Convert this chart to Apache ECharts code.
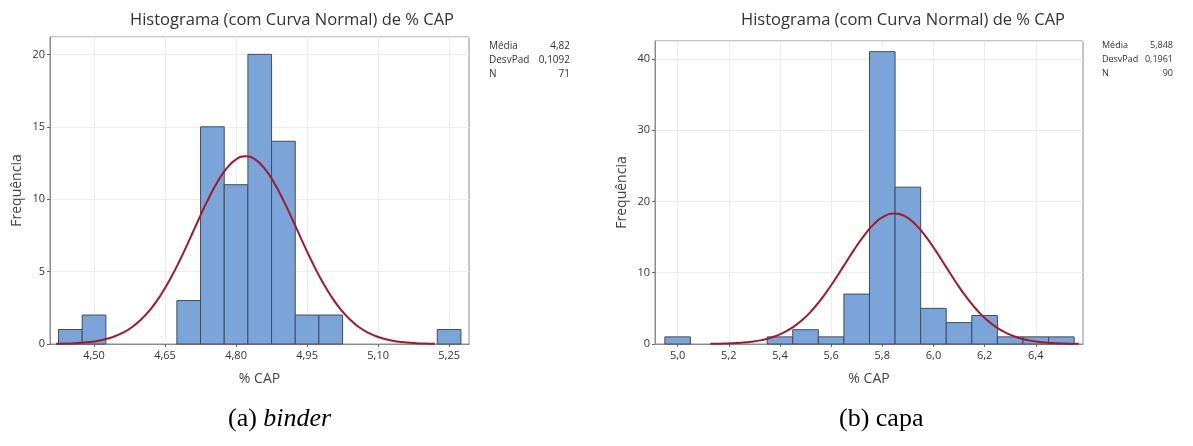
<!DOCTYPE html>
<html><head><meta charset="utf-8">
<script src="https://cdn.jsdelivr.net/npm/echarts@6/dist/echarts.min.js"></script>
<style>html,body{margin:0;padding:0;background:#fff}#c{width:1193px;height:446px}</style>
</head><body><div id="c"></div>
<script>
// ---------- data: (a) binder ----------
const binderBinCenters = [4.45, 4.50, 4.70, 4.75, 4.80, 4.85, 4.90, 4.95, 5.00, 5.25];
const binderCounts     = [1, 2, 3, 15, 11, 20, 14, 2, 2, 1];
const binderBinWidth   = 0.05;
const binderTicks      = [4.50, 4.65, 4.80, 4.95, 5.10, 5.25];
const binderStatLabels = ['Média', 'DesvPad', 'N'];
const binderStatValues = ['4,82', '0,1092', '71'];
const binderCurveX = [4.42,4.44,4.46,4.48,4.50,4.52,4.54,4.56,4.58,4.60,4.62,4.64,4.66,4.68,4.70,4.72,4.74,4.76,4.78,4.80,4.82,
                      4.84,4.86,4.88,4.90,4.92,4.94,4.96,4.98,5.00,5.02,5.04,5.06,5.08,5.10,5.12,5.14,5.16,5.18,5.20,5.22];
const binderCurveY = [0.016,0.030,0.057,0.102,0.177,0.298,0.485,0.763,1.159,1.703,2.425,3.336,4.435,5.70,7.09,8.53,9.92,11.15,12.13,12.75,12.97,
                      12.75,12.13,11.15,9.92,8.53,7.09,5.70,4.435,3.336,2.425,1.703,1.159,0.763,0.485,0.298,0.177,0.102,0.057,0.030,0.016];

// ---------- data: (b) capa ----------
const capaBinCenters = [5.0, 5.4, 5.5, 5.6, 5.7, 5.8, 5.9, 6.0, 6.1, 6.2, 6.3, 6.4, 6.5];
const capaCounts     = [1, 1, 2, 1, 7, 41, 22, 5, 3, 4, 1, 1, 1];
const capaBinWidth   = 0.1;
const capaTicks      = [5.0, 5.2, 5.4, 5.6, 5.8, 6.0, 6.2, 6.4];
const capaStatLabels = ['Média', 'DesvPad', 'N'];
const capaStatValues = ['5,848', '0,1961', '90'];
const capaCurveX = [5.128,5.168,5.208,5.248,5.288,5.328,5.368,5.408,5.448,5.488,5.528,5.568,5.608,5.648,5.688,5.728,5.768,5.808,5.848,
                    5.888,5.928,5.968,6.008,6.048,6.088,6.128,6.168,6.208,6.248,6.288,6.328,6.368,6.408,6.448,6.488,6.528,6.568];
const capaCurveY = [0.022,0.045,0.089,0.170,0.310,0.544,0.916,1.48,2.29,3.39,4.84,6.61,8.66,10.89,13.13,15.18,16.85,17.93,18.31,
                    17.93,16.85,15.18,13.13,10.89,8.66,6.61,4.84,3.39,2.29,1.48,0.916,0.544,0.310,0.170,0.089,0.045,0.022];

const titleText = 'Histograma (com Curva Normal) de % CAP';

// ---------- build ----------
const zip = (a, b) => a.map((v, i) => [v, b[i]]);
const BAR_FILL = '#7BA5D9', BAR_EDGE = '#3D4C63', CURVE = '#A01A2C', FRAME = '#8c8c8c', GRID = '#ececec';
const FONT = '"Open Sans", "Noto Sans", sans-serif';
const SERIF = '"Liberation Serif", "DejaVu Serif", serif';

function barRender(width) {
  return function (params, api) {
    const x = api.value(0), y = api.value(1);
    const p0 = api.coord([x - width / 2, y]);
    const p1 = api.coord([x + width / 2, 0]);
    return {
      type: 'rect',
      shape: { x: p0[0], y: p0[1], width: p1[0] - p0[0], height: p1[1] - p0[1] },
      style: { fill: BAR_FILL, stroke: BAR_EDGE, lineWidth: 1 }
    };
  };
}

function xAxis(gridIndex, min, max, ticks, dec) {
  return {
    type: 'value', gridIndex, min, max,
    name: '% CAP', nameLocation: 'middle', nameGap: 28,
    nameTextStyle: { fontFamily: FONT, fontSize: 14, color: '#444' },
    axisLine: { show: true, lineStyle: { color: FRAME, width: 1 } },
    axisTick: { show: true, length: 3, customValues: ticks, lineStyle: { color: '#666' } },
    axisLabel: { customValues: ticks, fontFamily: FONT, fontSize: 11, color: '#333', margin: 6,
                 formatter: v => v.toFixed(dec).replace('.', ',') },
    splitLine: { show: false }
  };
}
function yAxis(gridIndex, max, interval) {
  return {
    type: 'value', gridIndex, min: 0, max, interval,
    name: 'Frequência', nameLocation: 'middle', nameGap: 26,
    nameTextStyle: { fontFamily: FONT, fontSize: 14, color: '#444' },
    axisLine: { show: true, lineStyle: { color: FRAME, width: 1 } },
    axisTick: { show: true, length: 3, lineStyle: { color: '#666' } },
    axisLabel: { fontFamily: FONT, fontSize: 11, color: '#333', margin: 5, showMaxLabel: false },
    splitLine: { show: true, lineStyle: { color: GRID, width: 1 } }
  };
}
function gridSeries(axisIndex, ticks) {
  return { type: 'custom', xAxisIndex: axisIndex, yAxisIndex: axisIndex, data: [], z: 1, silent: true,
           renderItem: () => null,
           markLine: { z: 1, silent: true, symbol: 'none', label: { show: false }, animation: false,
                       lineStyle: { color: GRID, width: 1, type: 'solid' },
                       data: ticks.map(t => ({ xAxis: t })) } };
}

function statsGraphics(x0, x1, y0, fs, labels, values) {
  const out = [];
  labels.forEach((l, i) => {
    out.push({ type: 'text', left: x0, top: y0 + i * 14,
      style: { text: l, font: fs + 'px ' + FONT, fill: '#333' } });
    out.push({ type: 'text', right: 1193 - x1, top: y0 + i * 14,
      style: { text: values[i], font: fs + 'px ' + FONT, fill: '#333', textAlign: 'right' } });
  });
  return out;
}

const chart = echarts.init(document.getElementById('c'), null, { renderer: 'canvas' });
chart.setOption({
  backgroundColor: '#fff',
  animation: false,
  title: [
    { text: titleText, left: 287, top: 7, textAlign: 'center',
      textStyle: { fontFamily: FONT, fontSize: 16.5, fontWeight: 'normal', color: '#333' } },
    { text: titleText, left: 898, top: 7, textAlign: 'center',
      textStyle: { fontFamily: FONT, fontSize: 16.5, fontWeight: 'normal', color: '#333' } }
  ],
  grid: [
    { left: 50, top: 37, width: 419, height: 307, show: true, borderColor: FRAME, borderWidth: 1, backgroundColor: '#fff' },
    { left: 655, top: 41, width: 428, height: 303, show: true, borderColor: FRAME, borderWidth: 1, backgroundColor: '#fff' }
  ],
  xAxis: [ xAxis(0, 4.407, 5.292, binderTicks, 2), xAxis(1, 4.9115, 6.5846, capaTicks, 1) ],
  yAxis: [ yAxis(0, 21.2, 5), yAxis(1, 42.5, 10) ],
  series: [
    gridSeries(0, binderTicks),
    { type: 'custom', xAxisIndex: 0, yAxisIndex: 0, renderItem: barRender(binderBinWidth),
      data: zip(binderBinCenters, binderCounts), z: 3 },
    { type: 'line', xAxisIndex: 0, yAxisIndex: 0, data: zip(binderCurveX, binderCurveY),
      showSymbol: false, smooth: true, lineStyle: { color: CURVE, width: 2 }, z: 4 },
    gridSeries(1, capaTicks),
    { type: 'custom', xAxisIndex: 1, yAxisIndex: 1, renderItem: barRender(capaBinWidth),
      data: zip(capaBinCenters, capaCounts), z: 3 },
    { type: 'line', xAxisIndex: 1, yAxisIndex: 1, data: zip(capaCurveX, capaCurveY),
      showSymbol: false, smooth: true, lineStyle: { color: CURVE, width: 2 }, z: 4 }
  ],
  graphic: [
    ...statsGraphics(489, 570, 41, 10, binderStatLabels, binderStatValues),
    ...statsGraphics(1102, 1173, 41, 9, capaStatLabels, capaStatValues),
    { type: 'text', left: 228, top: 406,
      style: { text: '{n|(a) }{i|binder}', rich: {
        n: { fontFamily: SERIF, fontSize: 26, fill: '#000' },
        i: { fontFamily: SERIF, fontSize: 26, fontStyle: 'italic', fill: '#000' } } } },
    { type: 'text', left: 839, top: 406,
      style: { text: '(b) capa', font: '26px ' + SERIF, fill: '#000' } }
  ]
});
</script></body></html>
